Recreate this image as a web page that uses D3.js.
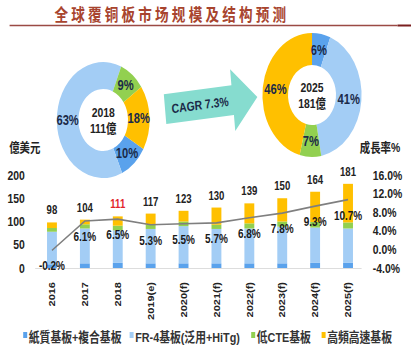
<!DOCTYPE html>
<html>
<head>
<meta charset="utf-8">
<script src="https://cdn.jsdelivr.net/npm/d3@7"></script>
<style>
  body { margin: 0; background: #fff; }
  text { font-family: "Liberation Sans", Arial, "Noto Sans CJK TC", sans-serif; }
</style>
</head>
<body>
<svg width="411" height="350"></svg>
<script>
// data
const years = ["2016", "2017", "2018", "2019(e)", "2020(f)", "2021(f)", "2022(f)", "2023(f)", "2024(f)", "2025(f)"];
const paper = [8, 10, 11, 10, 10, 10, 10, 10, 11, 11];
const fr4 = [70, 75, 70, 74, 80, 74, 75, 79, 76, 74];
const lowCte = [8, 9, 10, 9, 10, 9, 11, 11, 12, 13];
const highSpeed = [12, 10, 20, 24, 23, 37, 43, 50, 65, 83];
const totals = [98, 104, 111, 117, 123, 130, 139, 150, 164, 181];
const growth = [-0.2, 6.1, 6.5, 5.3, 5.5, 5.7, 6.8, 7.8, 9.3, 10.7];
const share2018 = [10, 63, 9, 18];
const share2025 = [6, 41, 7, 46];
const seriesNames = ["紙質基板+複合基板", "FR-4基板(泛用+HiTg)", "低CTE基板", "高頻高速基板"];
const leftTicks = [0, 50, 100, 150, 200];
const rightTicks = [-4, 0, 4, 8, 12, 16];

const colors = ["#5aa2ec", "#a3cdf5", "#92d050", "#ffc000"];
const keys = ["paper", "fr4", "lowCte", "highSpeed"];

// the picture is squeezed sideways, so draw wide and scale x
const sx = 0.8;
const W = 411 / sx;

const svg = d3.select("svg");
const root = svg.append("g").attr("transform", `scale(${sx},1)`);

// title
root.append("text")
    .attr("x", 68).attr("y", 21)
    .style("font-family", "'Noto Sans CJK SC', sans-serif")
    .style("font-size", "17px").style("font-weight", "bold")
    .style("letter-spacing", "4px")
    .attr("fill", "#a8442e")
    .text("全球覆铜板市场规模及结构预测");
root.append("line")
    .attr("x1", 12).attr("x2", 497).attr("y1", 25.5).attr("y2", 25.5)
    .attr("stroke", "#9b4a44").attr("stroke-width", 1.3);
root.append("line")
    .attr("x1", 497).attr("x2", W).attr("y1", 25.5).attr("y2", 25.5)
    .attr("stroke", "#7a1f1f").attr("stroke-width", 2);

// donuts
function donut(cx, cy, r0, r1, shares, start, year, total) {
    const g = root.append("g").attr("transform", `translate(${cx},${cy})`);
    const pie = d3.pie().sort(null)
        .startAngle(start * Math.PI / 180)
        .endAngle((start + 360) * Math.PI / 180);
    const arc = d3.arc().innerRadius(r0).outerRadius(r1);
    const arcs = pie(shares);
    g.selectAll("path").data(arcs).enter().append("path")
        .attr("d", arc)
        .attr("fill", (d, i) => colors[i]);
    g.selectAll(".pct").data(arcs).enter().append("text")
        .attr("class", "pct")
        .attr("x", d => arc.centroid(d)[0])
        .attr("y", d => arc.centroid(d)[1] + 5)
        .attr("text-anchor", "middle")
        .style("font-size", "14px").style("font-weight", "bold")
        .attr("fill", "#1b2a48")
        .text(d => d.data + "%");
    g.append("text").attr("y", -3).attr("text-anchor", "middle")
        .style("font-size", "13px").style("font-weight", "bold").attr("fill", "#222")
        .text(year);
    g.append("text").attr("y", 13).attr("text-anchor", "middle")
        .style("font-size", "13px").style("font-weight", "bold").attr("fill", "#222")
        .text(total + "億");
}
donut(129, 120, 31, 58, share2018, 120, "2018", 111);
donut(390, 95, 30, 62, share2025, 0, "2025", 181);

// arrow
const arrow = root.append("g").attr("transform", "translate(264,103) rotate(-6)");
arrow.append("path")
    .attr("d", "M-58,-15 L27,-15 L27,-31 L58,0 L27,31 L27,15 L-58,15 Z")
    .attr("fill", "#86dccf");
arrow.append("text")
    .attr("x", -14).attr("y", 5)
    .attr("text-anchor", "middle")
    .style("font-size", "13px").style("font-weight", "bold")
    .attr("fill", "#1b2a48")
    .text("CAGR 7.3%");

// bar chart
const x = d3.scaleBand().domain(years).range([44.4, 455.6])
    .paddingInner(0.7).paddingOuter(0.35);
const y = d3.scaleLinear().domain([0, 200]).range([268, 175]);
const yR = d3.scaleLinear().domain([-4, 16]).range([268, 175]);

const table = years.map((yr, i) => ({
    year: yr, paper: paper[i], fr4: fr4[i], lowCte: lowCte[i], highSpeed: highSpeed[i]
}));
const stacked = d3.stack().keys(keys)(table);

root.append("line")
    .attr("x1", 44).attr("x2", 452).attr("y1", y(0) + 0.5).attr("y2", y(0) + 0.5)
    .attr("stroke", "#d9d9d9");

root.selectAll(".series").data(stacked).enter().append("g")
    .attr("fill", (d, i) => colors[i])
    .selectAll("rect").data(d => d).enter().append("rect")
    .attr("x", d => x(d.data.year))
    .attr("width", x.bandwidth())
    .attr("y", d => y(d[1]))
    .attr("height", d => y(d[0]) - y(d[1]));

// axes
const axL = root.append("g").attr("transform", "translate(31,0)")
    .call(d3.axisLeft(y).tickValues(leftTicks).tickSize(0).tickPadding(0));
const axR = root.append("g").attr("transform", "translate(466,0)")
    .call(d3.axisRight(yR).tickValues(rightTicks).tickSize(0).tickPadding(0)
        .tickFormat(d => d.toFixed(1) + "%"));
[axL, axR].forEach(a => {
    a.select(".domain").remove();
    a.selectAll("text")
        .style("font-size", "13px").style("font-weight", "bold")
        .attr("fill", "#222");
});

root.append("text").attr("x", 31).attr("y", 152).attr("text-anchor", "middle")
    .style("font-size", "13px").style("font-weight", "bold").attr("fill", "#222")
    .text("億美元");
root.append("text").attr("x", 475).attr("y", 152).attr("text-anchor", "middle")
    .style("font-size", "13px").style("font-weight", "bold").attr("fill", "#222")
    .text("成長率%");

// totals above bars
root.selectAll(".total").data(totals).enter().append("text")
    .attr("x", (d, i) => x(years[i]) + x.bandwidth() / 2)
    .attr("y", d => y(d) - 8)
    .attr("text-anchor", "middle")
    .style("font-size", "12px").style("font-weight", "bold")
    .attr("fill", (d, i) => years[i] === "2018" ? "#e3262b" : "#222")
    .text(d => d);

// growth line
const line = d3.line()
    .x((d, i) => x(years[i]) + x.bandwidth() / 2)
    .y(d => yR(d));
root.append("path").datum(growth)
    .attr("d", line)
    .attr("fill", "none")
    .attr("stroke", "#7f7f7f").attr("stroke-width", 1.6);

root.selectAll(".rate").data(growth).enter().append("text")
    .attr("x", (d, i) => x(years[i]) + x.bandwidth() / 2)
    .attr("y", d => yR(d) + 20)
    .attr("text-anchor", "middle")
    .style("font-size", "12.5px").style("font-weight", "bold")
    .attr("fill", "#1a1a1a")
    .text(d => d.toFixed(1) + "%");

// year labels
root.selectAll(".yr").data(years).enter().append("text")
    .attr("transform", d => `translate(${x(d) + x.bandwidth() / 2 + 4},282) rotate(-90)`)
    .attr("text-anchor", "end")
    .style("font-size", "11px").style("font-weight", "bold")
    .attr("fill", "#222")
    .text(d => d);

// legend
const legX = [29, 162, 314, 402];
const leg = root.selectAll(".leg").data(seriesNames).enter().append("g")
    .attr("transform", (d, i) => `translate(${legX[i]},337)`);
leg.append("rect").attr("x", 0).attr("y", -5).attr("width", 5).attr("height", 6)
    .attr("fill", (d, i) => colors[i]);
leg.append("text").attr("x", 7).attr("y", 5)
    .style("font-size", "13.5px").style("font-weight", "bold")
    .attr("fill", "#333")
    .text(d => d);
</script>
</body>
</html>
